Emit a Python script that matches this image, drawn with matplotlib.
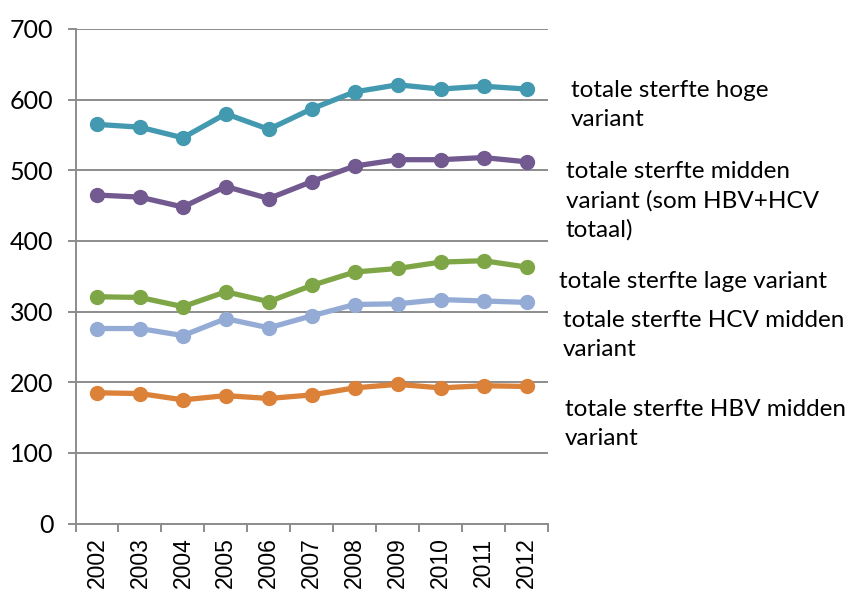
import matplotlib
matplotlib.use("Agg")
import matplotlib.pyplot as plt
import numpy as np

years = ["2002", "2003", "2004", "2005", "2006", "2007", "2008", "2009", "2010", "2011", "2012"]
hoge = [565, 561, 546, 580, 558, 587, 611, 621, 615, 619, 615]
midden = [465, 462, 448, 477, 460, 484, 506, 515, 515, 518, 512]
lage = [321, 320, 307, 328, 314, 337, 356, 361, 370, 372, 363]
hcv = [276, 276, 266, 290, 277, 294, 310, 311, 317, 315, 313]
hbv = [185, 184, 175, 181, 177, 182, 192, 197, 192, 195, 194]

labels = [
    "totale sterfte hoge\nvariant",
    "totale sterfte midden\nvariant (som HBV+HCV\ntotaal)",
    "totale sterfte lage variant",
    "totale sterfte HCV midden\nvariant",
    "totale sterfte HBV midden\nvariant",
]
series = [hoge, midden, lage, hcv, hbv]
colors = ["#4299b0", "#725a90", "#7fa646", "#94acd5", "#db8138"]

W, H = 849, 593
fig = plt.figure(figsize=(W / 100, H / 100), dpi=100)
ax = fig.add_axes([75.5 / W, 1 - 523.5 / H, (548 - 75.5) / W, (523.5 - 29) / H])

x = np.arange(len(years))
for vals, c in zip(series, colors):
    ax.plot(x, vals, color=c, lw=3.8, marker="o", ms=10, zorder=3, solid_capstyle="round")

ax.set_xlim(-0.5, len(years) - 0.5)
ax.set_ylim(0, 700)
ax.set_yticks(range(0, 701, 100))
ax.yaxis.grid(True, color="#8c8c8c", lw=1.4)
ax.set_axisbelow(True)
for s in ["top", "right"]:
    ax.spines[s].set_visible(False)
for s in ["left", "bottom"]:
    ax.spines[s].set_color("#8c8c8c")
    ax.spines[s].set_linewidth(1.4)

ax.set_xticks(np.arange(-0.5, len(years), 1.0))
ax.set_xticklabels([])
ax.set_xticks(x, minor=True)
ax.set_xticklabels(years, minor=True, rotation=90, fontsize=16.5, family="Liberation Sans")
ax.tick_params(axis="x", which="major", length=6, color="#8c8c8c", width=1.4)
ax.tick_params(axis="x", which="minor", length=0, pad=10)
ax.tick_params(axis="y", length=6, color="#8c8c8c", width=1.4, pad=10, labelsize=18)
for t in ax.get_yticklabels():
    t.set_family("Lato")

pos = [(571, 105), (566, 201), (559, 281), (563, 335), (565, 424)]
for lab, (px, py) in zip(labels, pos):
    fig.text(px / W, 1 - py / H, lab, ha="left", va="center", fontsize=17.5,
             family="Lato", linespacing=1.45)

fig.savefig("out.png", dpi=100)
